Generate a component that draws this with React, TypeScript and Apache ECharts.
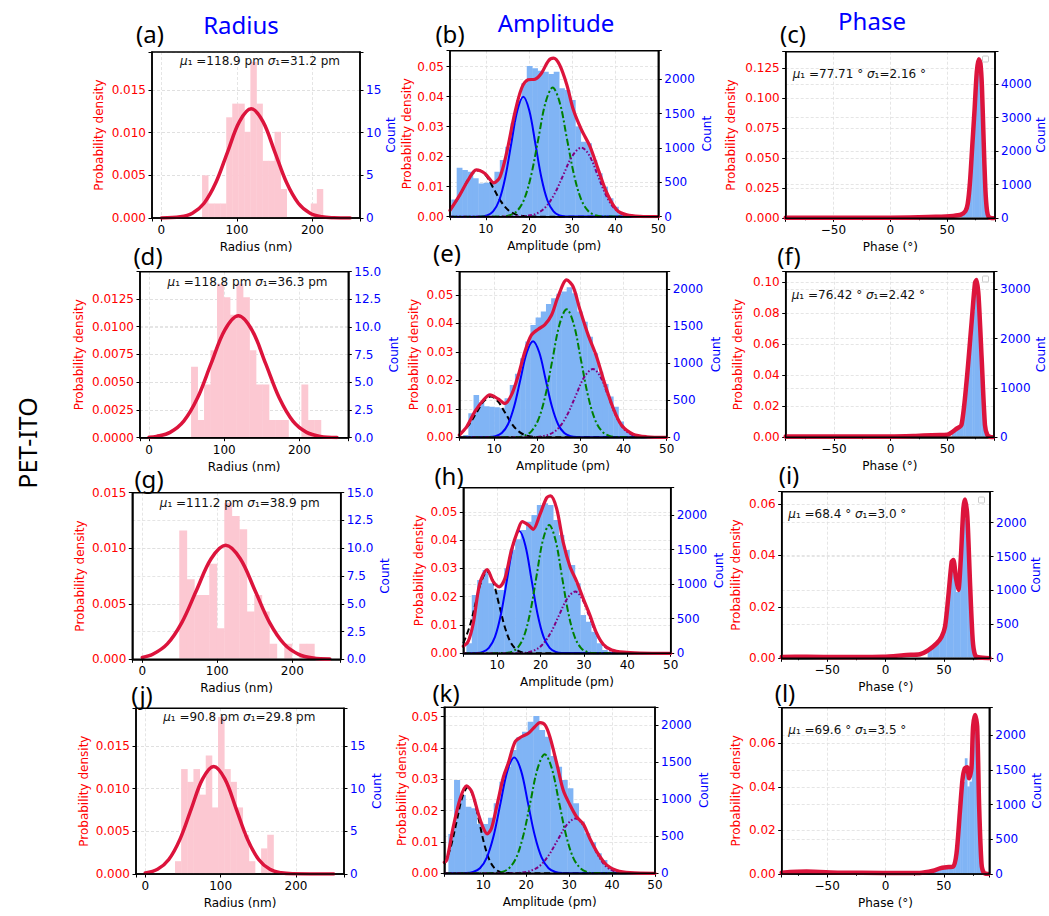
import React, { useEffect, useRef } from 'react';
import * as echarts from 'echarts';

// ===================== DATA =====================
// ---- Radius histograms (counts per bin) ----
const radBinStartA = 53.8, radBinWidthA = 8.0;
const radCountsA = [5.0, 1.7, 1.7, 1.7, 11.8, 13.4, 13.4, 10.1, 18.3, 13.4, 6.7, 6.7, 10.1, 3.4, 0, 0, 0, 0, 1.7, 3.4];
const radBinStartD = 55.9, radBinWidthD = 8.63;
const radCountsD = [6.4, 1.6, 4.8, 7.9, 13.9, 12.7, 11.1, 13.9, 12.7, 7.9, 4.8, 4.8, 1.6, 1.6, 1.6, 0, 0, 4.8, 1.6, 1.6];
const radBinStartG = 49.3, radBinWidthG = 10.0;
const radCountsG = [11.6, 7.2, 5.8, 5.8, 8.6, 2.8, 14.1, 12.9, 11.7, 4.3, 5.8, 4.3, 1.4, 0, 1.4, 0, 1.4, 1.4];
const radBinStartJ = 39.4, radBinWidthJ = 8.16;
const radCountsJ = [1.5, 12.3, 10.8, 12.3, 9.3, 13.9, 7.8, 18.4, 12.3, 10.8, 7.8, 4.6, 1.5, 0, 3.0, 4.6];

// ---- Radius fitted densities ----
const radFitA = [[0, 0.00001], [25, 0.00014], [41, 0.00056], [56.5, 0.00173], [72.1, 0.00415], [87.7, 0.00776], [103.3, 0.01129], [118.9, 0.01279], [134.5, 0.01129], [150.1, 0.00776], [165.7, 0.00415], [181.3, 0.00173], [196.9, 0.00056], [212.5, 0.00014], [228, 0.00003], [250, 0]];
const radFitD = [[0, 0.00005], [9.9, 0.00012], [28, 0.00048], [46.2, 0.00149], [64.4, 0.00357], [82.5, 0.00667], [100.7, 0.0097], [118.8, 0.01099], [136.9, 0.0097], [155.1, 0.00667], [173.3, 0.00357], [191.4, 0.00149], [209.6, 0.00048], [227.7, 0.00012], [250, 0.00002]];
const radFitG = [[0, 0.00017], [14, 0.00045], [33.4, 0.00139], [52.85, 0.00333], [72.3, 0.00622], [91.75, 0.00905], [111.2, 0.01026], [130.65, 0.00905], [150.1, 0.00622], [169.55, 0.00333], [189, 0.00139], [208.45, 0.00045], [227.9, 0.00011], [250, 0.00002]];
const radFitJ = [[0, 0.00012], [16.3, 0.00055], [31.2, 0.0017], [46.1, 0.00409], [61.0, 0.00764], [75.9, 0.01112], [90.8, 0.0126], [105.7, 0.01112], [120.6, 0.00764], [135.5, 0.00409], [150.4, 0.0017], [165.3, 0.00055], [180.2, 0.00014], [195.1, 0.00003], [250, 0]];

// ---- Amplitude histograms (counts per bin) ----
const ampBinStartB = 2.0, ampBinWidthB = 1.25;
const ampCountsB = [250, 714, 680, 655, 558, 485, 495, 510, 655, 825, 1019, 1359, 1700, 1942, 2194, 2160, 2126, 2111, 2078, 2111, 1869, 1845, 1700, 1311, 1092, 1068, 825, 631, 437, 267, 146, 58, 24, 10];
const ampBinStartE = 2.8, ampBinWidthE = 1.2;
const ampCountsE = [30, 324, 572, 470, 420, 414, 405, 392, 527, 707, 860, 1068, 1293, 1518, 1620, 1700, 1802, 1879, 1940, 1969, 2027, 1946, 1700, 1563, 1360, 1135, 887, 720, 550, 414, 212, 99, 40, 18];
const ampBinStartH = 2.9, ampBinWidthH = 1.25;
const ampCountsH = [145, 843, 1060, 1205, 1012, 916, 916, 1229, 1494, 1648, 1783, 1904, 2000, 2145, 2169, 2145, 1928, 1711, 1494, 1277, 1012, 554, 458, 313, 145, 48, 24, 10];
const ampBinStartK = 1.85, ampBinWidthK = 1.32;
const ampCountsK = [530, 1258, 1056, 899, 876, 665, 665, 750, 944, 1236, 1438, 1663, 1834, 1910, 2045, 2121, 1932, 1843, 1582, 1438, 1258, 1146, 944, 697, 539, 418, 270, 180, 90, 45, 22];

// ---- Amplitude total densities (red) ----
const ampTotalB = [[1.7, 0.0021], [3.95, 0.0072], [5.9, 0.0122], [7.8, 0.0156], [9.8, 0.0144], [11.9, 0.0113], [13.3, 0.0133], [14.8, 0.0211], [16.7, 0.0344], [18.3, 0.0428], [19.8, 0.0456], [21.4, 0.0458], [22.9, 0.0478], [24.5, 0.0519], [25.7, 0.0528], [27.1, 0.0506], [28.8, 0.0439], [30.3, 0.0356], [32.2, 0.0289], [34.2, 0.0233], [36.1, 0.0156], [38.1, 0.0078], [40.4, 0.0022], [42.7, 0.0006], [45.8, 0.0001], [50, 0]];
const ampTotalE = [[1.9, 0.0008], [3.6, 0.0037], [5.5, 0.009], [7.5, 0.0131], [9.0, 0.0149], [10.9, 0.0135], [12.5, 0.0119], [14.0, 0.0149], [15.6, 0.0219], [17.1, 0.0301], [18.6, 0.0359], [20.2, 0.038], [21.7, 0.0395], [23.3, 0.043], [24.8, 0.0494], [26.8, 0.0553], [28.3, 0.0529], [29.8, 0.0453], [31.8, 0.0359], [33.7, 0.0285], [35.6, 0.019], [37.6, 0.0102], [39.5, 0.0043], [42.2, 0.0011], [45.3, 0.0002], [50, 0]];
const ampTotalH = [[2.2, 0.0025], [3.3, 0.0041], [4.5, 0.0106], [6.0, 0.0247], [7.7, 0.0296], [9.1, 0.0253], [10.5, 0.0235], [11.8, 0.0265], [13.3, 0.0365], [14.8, 0.0435], [15.8, 0.0465], [17.2, 0.0453], [18.3, 0.0438], [19.8, 0.0488], [21.4, 0.0549], [22.3, 0.0556], [23.7, 0.0512], [25.2, 0.0394], [26.8, 0.0306], [28.3, 0.0255], [29.8, 0.0195], [31.4, 0.0134], [32.9, 0.0072], [34.5, 0.0031], [36.4, 0.0012], [39.1, 0.0004], [42.9, 0.0001], [50, 0]];
const ampTotalK = [[0.9, 0.0035], [1.5, 0.0043], [3.0, 0.0149], [4.6, 0.0239], [6.1, 0.0279], [7.3, 0.0261], [8.8, 0.0191], [10.0, 0.0144], [10.9, 0.0126], [11.9, 0.0144], [13.1, 0.0213], [14.7, 0.0309], [15.8, 0.0351], [17.4, 0.042], [18.9, 0.0436], [20.5, 0.0447], [22.0, 0.0468], [23.2, 0.0481], [24.4, 0.0473], [25.5, 0.0436], [27.1, 0.0351], [28.6, 0.0266], [30.2, 0.0218], [31.7, 0.0181], [33.3, 0.0157], [34.9, 0.0109], [36.8, 0.0061], [38.7, 0.0027], [41.1, 0.0009], [44.2, 0.0002], [50, 0]];

// ---- Amplitude fitted components ----
const ampBlackB = [[1.7, 0.0025], [3.05, 0.005], [4.8, 0.0094], [6.55, 0.0137], [8.3, 0.0155], [10.05, 0.0137], [11.8, 0.0094], [13.55, 0.005], [15.3, 0.0021], [17.05, 0.0007], [18.8, 0.0002], [20.55, 0.00003], [50, 0]];
const ampBlueB = [[1.7, 0], [8.9, 0.0001], [10.3, 0.0004], [11.7, 0.0018], [13.1, 0.0054], [14.5, 0.013], [15.9, 0.0243], [17.3, 0.0353], [18.7, 0.04], [20.1, 0.0353], [21.5, 0.0243], [22.9, 0.013], [24.3, 0.0054], [25.7, 0.0018], [27.1, 0.0004], [28.5, 0.0001], [50, 0]];
const ampGreenB = [[1.7, 0], [13.95, 0.0001], [15.6, 0.0005], [17.25, 0.0019], [18.9, 0.0058], [20.55, 0.014], [22.2, 0.0261], [23.85, 0.038], [25.5, 0.043], [27.15, 0.038], [28.8, 0.0261], [30.45, 0.014], [32.1, 0.0058], [33.75, 0.0019], [35.4, 0.0005], [37.05, 0.0001], [50, 0]];
const ampPurpleB = [[1.7, 0], [17.5, 0.00005], [19.6, 0.0003], [21.7, 0.001], [23.8, 0.0031], [25.9, 0.0075], [28.0, 0.014], [30.1, 0.0203], [32.2, 0.023], [34.05, 0.0203], [35.9, 0.014], [37.75, 0.0075], [39.6, 0.0031], [41.45, 0.001], [43.3, 0.0003], [45.15, 0.00005], [50, 0]];

const ampBlackE = [[1.9, 0.0012], [2.6, 0.0019], [4.25, 0.0046], [5.9, 0.0087], [7.55, 0.0126], [9.2, 0.0143], [10.85, 0.0126], [12.5, 0.0087], [14.15, 0.0046], [15.8, 0.0019], [17.45, 0.0006], [19.1, 0.00016], [20.75, 0.00003], [50, 0]];
const ampBlueE = [[1.9, 0], [8.85, 0.0001], [10.3, 0.0004], [11.75, 0.0015], [13.2, 0.0046], [14.65, 0.011], [16.1, 0.0205], [17.55, 0.0298], [19.0, 0.0338], [20.45, 0.0298], [21.9, 0.0205], [23.35, 0.011], [24.8, 0.0046], [26.25, 0.0015], [27.7, 0.0004], [29.15, 0.0001], [50, 0]];
const ampGreenE = [[1.9, 0], [15.25, 0.0001], [16.9, 0.0005], [18.55, 0.002], [20.2, 0.0061], [21.85, 0.0146], [23.5, 0.0273], [25.15, 0.0397], [26.8, 0.045], [28.45, 0.0397], [30.1, 0.0273], [31.75, 0.0146], [33.4, 0.0061], [35.05, 0.002], [36.7, 0.0005], [38.35, 0.0001], [50, 0]];
const ampPurpleE = [[1.9, 0], [18.9, 0.00005], [20.9, 0.0003], [22.9, 0.0011], [24.9, 0.0032], [26.9, 0.0078], [28.9, 0.0146], [30.9, 0.0212], [32.9, 0.024], [34.65, 0.0212], [36.4, 0.0146], [38.15, 0.0078], [39.9, 0.0032], [41.65, 0.0011], [43.4, 0.0003], [45.15, 0.00005], [50, 0]];

const ampBlackH = [[2.2, 0.0036], [3.65, 0.0094], [5.0, 0.0175], [6.35, 0.0254], [7.7, 0.0288], [9.05, 0.0254], [10.4, 0.0175], [11.75, 0.0094], [13.1, 0.0039], [14.45, 0.0013], [15.8, 0.0003], [17.15, 0.00006], [50, 0]];
const ampBlueH = [[2.2, 0], [5.3, 0.0001], [6.7, 0.0005], [8.1, 0.0019], [9.5, 0.0058], [10.9, 0.014], [12.3, 0.0262], [13.7, 0.0381], [15.1, 0.0432], [16.5, 0.0381], [17.9, 0.0262], [19.3, 0.014], [20.7, 0.0058], [22.1, 0.0019], [23.5, 0.0005], [24.9, 0.0001], [50, 0]];
const ampGreenH = [[2.2, 0], [11.85, 0.0001], [13.3, 0.0005], [14.75, 0.002], [16.2, 0.0061], [17.65, 0.0147], [19.1, 0.0275], [20.55, 0.04], [22.0, 0.0453], [23.45, 0.04], [24.9, 0.0275], [26.35, 0.0147], [27.8, 0.0061], [29.25, 0.002], [30.7, 0.0005], [32.15, 0.0001], [50, 0]];
const ampPurpleH = [[2.2, 0], [14.7, 0.00005], [16.6, 0.0002], [18.5, 0.001], [20.4, 0.003], [22.3, 0.0071], [24.2, 0.0132], [26.1, 0.0192], [28.0, 0.0218], [29.6, 0.0192], [31.2, 0.0132], [32.8, 0.0071], [34.4, 0.003], [36.0, 0.001], [37.6, 0.0002], [39.2, 0.00005], [50, 0]];

const ampBlackK = [[0.9, 0.0029], [1.2, 0.0037], [2.5, 0.0089], [3.8, 0.0167], [5.1, 0.0243], [6.4, 0.0275], [7.7, 0.0243], [9.0, 0.0167], [10.3, 0.0089], [11.6, 0.0037], [12.9, 0.0012], [14.2, 0.0003], [15.5, 0.00006], [50, 0]];
const ampBlueK = [[0.9, 0], [6.0, 0.00008], [7.6, 0.0004], [9.2, 0.0016], [10.8, 0.005], [12.4, 0.012], [14.0, 0.0224], [15.6, 0.0327], [17.2, 0.037], [18.8, 0.0327], [20.4, 0.0224], [22.0, 0.012], [23.6, 0.005], [25.2, 0.0016], [26.8, 0.0004], [28.4, 0.00008], [50, 0]];
const ampGreenK = [[0.9, 0], [12.75, 0.00008], [14.4, 0.0004], [16.05, 0.0017], [17.7, 0.0051], [19.35, 0.0123], [21.0, 0.023], [22.65, 0.0335], [24.3, 0.038], [25.95, 0.0335], [27.6, 0.023], [29.25, 0.0123], [30.9, 0.0051], [32.55, 0.0017], [34.2, 0.0004], [35.85, 0.00008], [50, 0]];
const ampPurpleK = [[0.9, 0], [16.8, 0.00004], [18.9, 0.0002], [21.0, 0.0008], [23.1, 0.0023], [25.2, 0.0057], [27.3, 0.0106], [29.4, 0.0154], [31.5, 0.0175], [33.25, 0.0154], [35.0, 0.0106], [36.75, 0.0057], [38.5, 0.0023], [40.25, 0.0008], [42.0, 0.0002], [43.75, 0.00004], [50, 0]];

// ---- Phase histograms (counts per 2° bin) ----
const phBinStartC = 62, phBinWidthC = 2;
const phCountsC = [110, 160, 290, 650, 1450, 2450, 3500, 4300, 4300, 3100, 1200, 180, 30];
const phBinStartF = 54, phBinWidthF = 2;
const phCountsF = [72, 116, 173, 202, 289, 636, 1040, 1503, 2023, 2543, 2890, 2774, 2081, 1156, 347, 58];
const phBinStartI = 36, phBinWidthI = 2;
const phCountsI = [105, 140, 175, 192, 244, 272, 332, 436, 698, 1082, 1326, 1222, 977, 1047, 1571, 2094, 2059, 1500, 628, 140, 35];
const phBinStartL = 40, phBinWidthL = 2;
const phCountsL = [43, 58, 69, 78, 84, 86, 89, 92, 95, 130, 288, 634, 1066, 1325, 1664, 1260, 1330, 1843, 2045, 1728, 634, 86];

// ---- Phase densities (red) ----
const phTotalC = [[-92, 0.0005], [-50, 0.0005], [0, 0.0005], [25, 0.0008], [40, 0.0012], [55, 0.002], [62, 0.003], [66, 0.006], [68, 0.012], [70, 0.03], [72, 0.06], [74, 0.09], [76, 0.122], [77.7, 0.1325], [79.2, 0.129], [80.5, 0.11], [82, 0.065], [83.5, 0.025], [85, 0.006], [86.5, 0.001], [89, 0.0001], [91, 0]];
const phTotalF = [[-92.6, 0.0005], [-50, 0.0005], [0, 0.0005], [20, 0.0008], [29, 0.0011], [43.5, 0.0015], [51, 0.0019], [58, 0.0054], [62.5, 0.008], [67, 0.036], [71.5, 0.0746], [74.4, 0.0994], [75.9, 0.1015], [77.6, 0.0908], [80.3, 0.051], [83.2, 0.008], [85.3, 0.0015], [87.6, 0.0003], [90, 0]];
const phTotalI = [[-89, 0.0005], [-67.7, 0.0006], [-39, 0.0005], [-2, 0.0006], [18, 0.0013], [29.4, 0.0016], [36.6, 0.0032], [43.7, 0.0058], [48, 0.0084], [50.9, 0.0123], [53.7, 0.024], [56.6, 0.0376], [58, 0.0382], [60.3, 0.0311], [62.3, 0.0266], [64.3, 0.038], [66.6, 0.0583], [68, 0.0618], [70, 0.0551], [72.3, 0.0292], [74.6, 0.0071], [76.6, 0.0013], [79.4, 0.0004], [89, 0]];
const phTotalL = [[-89, 0.0006], [-67.7, 0.0011], [-39, 0.0006], [-2, 0.0005], [29.4, 0.0005], [40.9, 0.0015], [46.6, 0.0026], [52.3, 0.0031], [58, 0.0034], [60.9, 0.0095], [63.7, 0.0279], [66, 0.0432], [68, 0.0485], [70, 0.049], [71.7, 0.0439], [73.7, 0.0485], [75.1, 0.0677], [76.9, 0.073], [78.6, 0.0677], [80.3, 0.0309], [82.3, 0.0049], [84.3, 0.0006], [88, 0]];

// ---- Texts ----
const columnTitles = ['Radius', 'Amplitude', 'Phase'];
const panelLetters = ['(a)', '(b)', '(c)', '(d)', '(e)', '(f)', '(g)', '(h)', '(i)', '(j)', '(k)', '(l)'];
const radiusNotes = ['118.9 pm', '31.2 pm', '118.8 pm', '36.3 pm', '111.2 pm', '38.9 pm', '90.8 pm', '29.8 pm'];
const phaseNotes = ['77.71 °', '2.16 °', '76.42 °', '2.42 °', '68.4 °', '3.0 °', '69.6 °', '3.5 °'];
const rowLabel = 'PET-ITO';

// ===================== BUILD =====================
const FONT = 'DejaVu Sans';
const RED = '#dc143c';
const PINK = '#fcc8d2';
const LBLUE = '#80b4f5';

function bins(start: number, width: number, counts: number[]) {
  return counts.map((c, i) => [start + i * width, start + (i + 1) * width, c]);
}

function fmt(step: number, dec: number, minus = false) {
  return (v: number) => {
    const r = v / step;
    if (Math.abs(r - Math.round(r)) > 1e-6) return '';
    let s = (Math.round(r) * step).toFixed(dec);
    if (minus) s = s.replace('-', '\u2212');
    return s;
  };
}

type Panel = {
  kind: 'radius' | 'amp' | 'phase';
  box: number[];
  x: number[];
  L: number[];
  R: number[];
  gapL: number;
  gapR: number;
  hist: number[][];
  total: number[][];
  comps?: number[][][];
  label: number[];
  note?: { text: string; x: number; y: number; align: string };
  legendBox?: number[];
};

const radNote = (k: number) => `{i|μ}₁ =${radiusNotes[2 * k]} {i|σ}₁=${radiusNotes[2 * k + 1]}`;
const phNote = (k: number) => `{i|μ}₁ =${phaseNotes[2 * k]} {i|σ}₁=${phaseNotes[2 * k + 1]}`;

const panels: Panel[] = [
  { kind: 'radius', box: [152, 52, 208, 166], x: [-12.5, 263], L: [0.01945, 0.005, 3], R: [19.45, 5, 0], gapL: 47, gapR: 22,
    hist: bins(radBinStartA, radBinWidthA, radCountsA), total: radFitA, label: [150, 33], note: { text: radNote(0), x: 260, y: 61, align: 'center' } },
  { kind: 'amp', box: [450, 50.7, 208.3, 166], x: [1.7, 50], L: [0.0553, 0.01, 2], R: [2416, 500, 0], gapL: 37, gapR: 43,
    hist: bins(ampBinStartB, ampBinWidthB, ampCountsB), total: ampTotalB, comps: [ampBlackB, ampBlueB, ampGreenB, ampPurpleB], label: [450, 33] },
  { kind: 'phase', box: [785.7, 51.7, 209.3, 166.6], x: [-92, 92], L: [0.1388, 0.025, 3], R: [4962, 1000, 0], gapL: 49, gapR: 40,
    hist: bins(phBinStartC, phBinWidthC, phCountsC), total: phTotalC, label: [793, 33], note: { text: phNote(0), x: 792.7, y: 74, align: 'left' }, legendBox: [982.5, 56] },
  { kind: 'radius', box: [140, 271.7, 208.3, 166], x: [-12, 265], L: [0.01496, 0.0025, 4], R: [15, 2.5, 1], gapL: 55, gapR: 40,
    hist: bins(radBinStartD, radBinWidthD, radCountsD), total: radFitD, label: [148, 255], note: { text: radNote(1), x: 247.5, y: 281.7, align: 'center' } },
  { kind: 'amp', box: [459.3, 271.7, 207.4, 165.6], x: [1.9, 50], L: [0.0582, 0.01, 2], R: [2238, 500, 0], gapL: 39, gapR: 43,
    hist: bins(ampBinStartE, ampBinWidthE, ampCountsE), total: ampTotalE, comps: [ampBlackE, ampBlueE, ampGreenE, ampPurpleE], label: [447, 252] },
  { kind: 'phase', box: [785.7, 271.7, 208.3, 165.6], x: [-92.6, 91.2], L: [0.1068, 0.02, 2], R: [3357, 1000, 0], gapL: 42, gapR: 41,
    hist: bins(phBinStartF, phBinWidthF, phCountsF), total: phTotalF, label: [789, 255], note: { text: phNote(1), x: 791.7, y: 295, align: 'left' }, legendBox: [982.5, 276] },
  { kind: 'radius', box: [132.3, 492.7, 208.4, 166.6], x: [-13.3, 264.5], L: [0.015, 0.005, 3], R: [15, 2.5, 1], gapL: 46, gapR: 38,
    hist: bins(radBinStartG, radBinWidthG, radCountsG), total: radFitG, label: [149, 478], note: { text: radNote(2), x: 239.7, y: 502.5, align: 'center' } },
  { kind: 'amp', box: [463.3, 487.7, 207.4, 165.6], x: [2.2, 50], L: [0.0585, 0.01, 2], R: [2395, 500, 0], gapL: 38, gapR: 42,
    hist: bins(ampBinStartH, ampBinWidthH, ampCountsH), total: ampTotalH, comps: [ampBlackH, ampBlueH, ampGreenH, ampPurpleH], label: [449, 475] },
  { kind: 'phase', box: [781.7, 491.7, 208.3, 166.6], x: [-89, 89.4], L: [0.0648, 0.02, 2], R: [2457, 500, 0], gapL: 40, gapR: 40,
    hist: bins(phBinStartI, phBinWidthI, phCountsI), total: phTotalI, label: [789, 474], note: { text: phNote(2), x: 788.3, y: 514, align: 'left' }, legendBox: [978.5, 497] },
  { kind: 'radius', box: [136, 708.3, 208, 165.7], x: [-12.3, 263.6], L: [0.01942, 0.005, 3], R: [19.42, 5, 0], gapL: 46, gapR: 27,
    hist: bins(radBinStartJ, radBinWidthJ, radCountsJ), total: radFitJ, label: [142, 694], note: { text: radNote(3), x: 239.3, y: 716.7, align: 'center' } },
  { kind: 'amp', box: [444.3, 707.3, 210.7, 166], x: [0.9, 50], L: [0.053, 0.01, 2], R: [2239, 500, 0], gapL: 34, gapR: 43,
    hist: bins(ampBinStartK, ampBinWidthK, ampCountsK), total: ampTotalK, comps: [ampBlackK, ampBlueK, ampGreenK, ampPurpleK], label: [446, 692] },
  { kind: 'phase', box: [781.7, 707.7, 207.6, 166.3], x: [-89, 89], L: [0.0763, 0.02, 2], R: [2393, 500, 0], gapL: 40, gapR: 42,
    hist: bins(phBinStartL, phBinWidthL, phCountsL), total: phTotalL, label: [785, 692], note: { text: phNote(3), x: 788.3, y: 730, align: 'left' } },
];

const kindInfo: any = {
  radius: { name: 'Radius (nm)', step: 100, split: 3, fill: PINK, width: 3.5, smooth: 0.35 },
  amp: { name: 'Amplitude (pm)', step: 10, split: 5, fill: LBLUE, width: 3.2, smooth: 0.3 },
  phase: { name: 'Phase (°)', step: 50, split: 4, fill: LBLUE, width: 4.5, smooth: 0.25 },
};

const compStyles = [
  { color: '#000000', type: [6, 3.5] },
  { color: '#0000ff', type: 'solid' },
  { color: '#008000', type: [7, 2.5, 2, 2.5] },
  { color: '#800080', type: [4, 2, 1.5, 2, 1.5, 2] },
];

const gridLine = { show: true, lineStyle: { color: '#dedede', width: 0.8, type: [3, 2] } };

function buildOption() {
  const grid: any[] = [];
  const xAxis: any[] = [];
  const yAxis: any[] = [];
  const series: any[] = [];
  const graphic: any[] = [];

  panels.forEach((p, i) => {
    const k = kindInfo[p.kind];
    grid.push({ left: p.box[0], top: p.box[1], width: p.box[2], height: p.box[3], show: false, containLabel: false });
    xAxis.push({
      gridIndex: i, type: 'value', min: p.x[0], max: p.x[1], splitNumber: k.split,
      axisLine: { show: true, onZero: false, lineStyle: { color: '#000', width: 1.5 } },
      axisTick: { show: true, length: 3.5, lineStyle: { color: '#000', width: 1 } },
      minorTick: p.kind === 'phase' ? { show: true, splitNumber: 2, length: 2, lineStyle: { color: '#000', width: 0.8 } } : { show: false },
      axisLabel: { color: '#000', fontSize: 12, fontFamily: FONT, margin: 6, formatter: fmt(k.step, 0, true) },
      splitLine: gridLine,
      name: k.name, nameLocation: 'middle', nameGap: 23,
      nameTextStyle: { color: '#000', fontSize: 12, fontFamily: FONT },
    });
    yAxis.push({
      gridIndex: i, type: 'value', position: 'left', min: 0, max: p.L[0], interval: p.L[1],
      axisLine: { show: true, onZero: false, lineStyle: { color: '#000', width: 1.5 } },
      axisTick: { show: true, length: 3.5, lineStyle: { color: '#000', width: 1 } },
      axisLabel: { color: '#ff0000', fontSize: 12, fontFamily: FONT, margin: 6, formatter: fmt(p.L[1], p.L[2]) },
      splitLine: gridLine,
      name: 'Probability density', nameLocation: 'middle', nameGap: p.gapL, nameRotate: 90,
      nameTextStyle: { color: '#ff0000', fontSize: 12, fontFamily: FONT },
    });
    yAxis.push({
      gridIndex: i, type: 'value', position: 'right', min: 0, max: p.R[0], interval: p.R[1],
      axisLine: { show: true, onZero: false, lineStyle: { color: '#000', width: 1.5 } },
      axisTick: { show: true, length: 3.5, lineStyle: { color: '#000', width: 1 } },
      axisLabel: { color: '#0000ff', fontSize: 12, fontFamily: FONT, margin: 6, formatter: fmt(p.R[1], p.R[2]) },
      splitLine: gridLine,
      name: 'Count', nameLocation: 'middle', nameGap: p.gapR, nameRotate: 90,
      nameTextStyle: { color: '#0000ff', fontSize: 12, fontFamily: FONT },
    });

    const fill = k.fill;
    series.push({
      type: 'custom', xAxisIndex: i, yAxisIndex: 2 * i + 1, data: p.hist, clip: true, silent: true, z: 1,
      encode: { x: [0, 1], y: 2 },
      renderItem: (params: any, api: any) => {
        const c = api.value(2);
        if (!c) return { type: 'group', children: [] };
        const p0 = api.coord([api.value(0), c]);
        const p1 = api.coord([api.value(1), 0]);
        return {
          type: 'rect',
          shape: { x: p0[0], y: p0[1], width: p1[0] - p0[0] + 0.4, height: Math.max(0, p1[1] - p0[1] - 0.75) },
          style: { fill },
        };
      },
    });
    (p.comps || []).forEach((c, j) => {
      series.push({
        type: 'line', xAxisIndex: i, yAxisIndex: 2 * i, data: c, symbol: 'none', showSymbol: false, smooth: 0.35, clip: true, z: 2, silent: true,
        lineStyle: { color: compStyles[j].color, width: 2, type: compStyles[j].type },
      });
    });
    series.push({
      type: 'line', xAxisIndex: i, yAxisIndex: 2 * i, data: p.total, symbol: 'none', showSymbol: false, smooth: k.smooth, clip: true, z: 3, silent: true,
      lineStyle: { color: RED, width: k.width, cap: 'round', join: 'round' },
    });

    // frame (spines)
    graphic.push({ type: 'rect', z: 50, silent: true, shape: { x: p.box[0], y: p.box[1], width: p.box[2], height: p.box[3] }, style: { fill: 'none', stroke: '#000', lineWidth: 1.5 } });
    graphic.push({ type: 'text', x: p.label[0], y: p.label[1], style: { text: panelLetters[i], fill: '#000', font: '24px "Noto Sans"', align: 'center', verticalAlign: 'middle', textAlign: 'center', textVerticalAlign: 'middle' } });
    if (p.note) {
      graphic.push({
        type: 'text', x: p.note.x, y: p.note.y, z: 10,
        style: {
          text: p.note.text, fill: '#111', font: `12px "${FONT}"`, align: p.note.align, verticalAlign: 'middle', textAlign: p.note.align, textVerticalAlign: 'middle',
          rich: { i: { fontStyle: 'italic', fontSize: 12, fontFamily: FONT, fill: '#111' } },
        },
      });
    }
    if (p.legendBox) {
      graphic.push({ type: 'rect', z: 10, shape: { x: p.legendBox[0], y: p.legendBox[1], width: 6, height: 6, r: 1 }, style: { fill: '#fff', stroke: '#cccccc', lineWidth: 1 } });
    }
  });

  const titlePos = [[241, 24], [556, 22], [872, 20]];
  columnTitles.forEach((t, i) => {
    graphic.push({ type: 'text', x: titlePos[i][0], y: titlePos[i][1], style: { text: t, fill: '#0000ff', font: '24px "Noto Sans"', align: 'center', verticalAlign: 'middle', textAlign: 'center', textVerticalAlign: 'middle' } });
  });
  graphic.push({ type: 'text', x: 27, y: 443, rotation: Math.PI / 2, style: { text: rowLabel, fill: '#000', font: '25px "Noto Sans"', align: 'center', verticalAlign: 'middle', textAlign: 'center', textVerticalAlign: 'middle' } });

  return {
    animation: false,
    backgroundColor: '#ffffff',
    textStyle: { fontFamily: FONT },
    grid, xAxis, yAxis, series, graphic,
  };
}

export default function App() {
  const ref = useRef<HTMLDivElement>(null);
  useEffect(() => {
    if (!ref.current) return;
    const chart = echarts.init(ref.current, undefined, { renderer: 'svg' });
    chart.setOption(buildOption() as any);
    return () => chart.dispose();
  }, []);
  return <div ref={ref} style={{ position: 'absolute', left: 0, top: 0, width: 1049, height: 916 }} />;
}
